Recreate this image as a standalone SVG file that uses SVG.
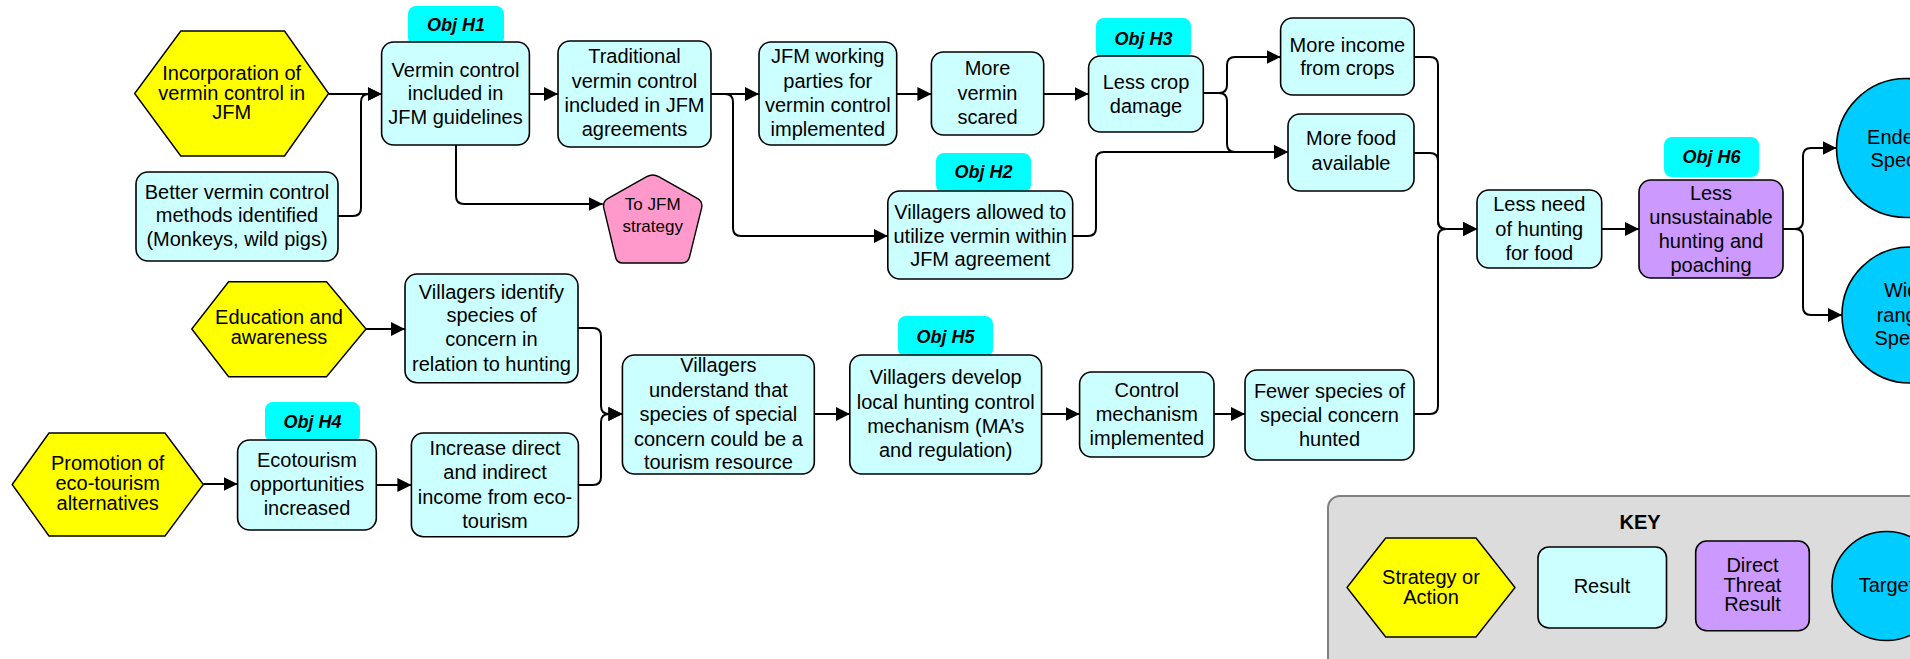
<svg xmlns="http://www.w3.org/2000/svg" width="1910" height="659" viewBox="0 0 1910 659">
  <defs>
    <marker id="arrow" markerUnits="userSpaceOnUse" markerWidth="14" markerHeight="14" refX="14" refY="7" orient="auto">
      <path d="M0,0 L14,7 L0,14 z" fill="#000"/>
    </marker>
    <style>
      text { font-family: "Liberation Sans", Arial, sans-serif; font-size: 20px; text-anchor: middle; fill: #000; }
      .res { fill: #CCFFFF; stroke: #000; stroke-width: 1.6; }
      .act { fill: #FFFF00; stroke: #000; stroke-width: 1.4; stroke-linejoin: round; }
      .thr { fill: #CC99FF; stroke: #000; stroke-width: 1.6; }
      .tgt { fill: #00CCFF; stroke: #000; stroke-width: 1.6; }
      .lnk { fill: #FF99CC; stroke: #000; stroke-width: 1.4; }
      .obj { fill: #00FFFF; }
      .objt { font-weight: bold; font-style: italic; font-size: 18px; }
      .small { font-size: 17px; }
      .keybox { fill: #DCDCDC; stroke: #808080; stroke-width: 2; }
      .keyt { font-weight: bold; }
      #connectors path { fill: none; stroke: #000; stroke-width: 2; }
    </style>
  </defs>

  <rect width="1910" height="659" fill="#FFFFFF"/>

  <!-- Legend -->
  <g id="key">
    <rect class="keybox" x="1328" y="496" width="620" height="200" rx="12"/>
    <text class="keyt" x="1640" y="529">KEY</text>
    <polygon class="act" points="1347,587.5 1385.7,538 1476,538 1515,587.5 1476,637 1385.7,637"/>
    <text><tspan x="1431" y="584">Strategy or</tspan><tspan x="1431" y="604">Action</tspan></text>
    <rect class="res" x="1538" y="547" width="128.5" height="81" rx="11"/>
    <text x="1602" y="593">Result</text>
    <rect class="thr" x="1695.7" y="541" width="113.6" height="89.7" rx="11"/>
    <text><tspan x="1752.5" y="572">Direct</tspan><tspan x="1752.5" y="592">Threat</tspan><tspan x="1752.5" y="611">Result</tspan></text>
    <circle class="tgt" cx="1886.5" cy="586" r="54.5"/>
    <text x="1886.5" y="592">Target</text>
  </g>

  <!-- Objective tags (drawn beneath the boxes they label) -->
  <g id="obj-h1"><rect class="obj" x="408" y="6" width="96" height="40" rx="8"/><text class="objt" x="456" y="31">Obj H1</text></g>
  <g id="obj-h2"><rect class="obj" x="936" y="153" width="95" height="40" rx="8"/><text class="objt" x="983.5" y="178">Obj H2</text></g>
  <g id="obj-h3"><rect class="obj" x="1096" y="18" width="95" height="41" rx="8"/><text class="objt" x="1143.5" y="44.5">Obj H3</text></g>
  <g id="obj-h4"><rect class="obj" x="265" y="402" width="95" height="40" rx="8"/><text class="objt" x="312.5" y="428">Obj H4</text></g>
  <g id="obj-h5"><rect class="obj" x="898" y="316" width="95" height="41" rx="8"/><text class="objt" x="945.5" y="342.5">Obj H5</text></g>
  <g id="obj-h6"><rect class="obj" x="1664" y="137" width="95" height="40" rx="8"/><text class="objt" x="1711.5" y="163">Obj H6</text></g>

  <!-- Connectors -->
  <g id="connectors">
    <path d="M329,94 H381.6" marker-end="url(#arrow)"/>
    <path d="M338,216 H353 Q361,216 361,208 V102 Q361,94 369,94 H381.6" marker-end="url(#arrow)"/>
    <path d="M456,145 V196 Q456,204 464,204 H602.7" marker-end="url(#arrow)"/>
    <path d="M529.4,94 H558" marker-end="url(#arrow)"/>
    <path d="M711,94 H759" marker-end="url(#arrow)"/>
    <path d="M711,94 H725 Q733,94 733,102 V228 Q733,236 741,236 H887.8" marker-end="url(#arrow)"/>
    <path d="M896.7,94 H931.4" marker-end="url(#arrow)"/>
    <path d="M1043.7,94 H1088.6" marker-end="url(#arrow)"/>
    <path d="M1203.3,93 H1219 Q1227,93 1227,85 V65 Q1227,57 1235,57 H1280.6" marker-end="url(#arrow)"/>
    <path d="M1203.3,93 H1219 Q1227,93 1227,101 V144 Q1227,152 1235,152 H1288" marker-end="url(#arrow)"/>
    <path d="M1072.7,236 H1088 Q1096,236 1096,228 V160 Q1096,152 1104,152 H1288" marker-end="url(#arrow)"/>
    <path d="M1414.2,57 H1430 Q1438,57 1438,65 V221 Q1438,229 1446,229 H1477" marker-end="url(#arrow)"/>
    <path d="M1414,153 H1430 Q1438,153 1438,161 V221 Q1438,229 1446,229 H1477" marker-end="url(#arrow)"/>
    <path d="M1414,414 H1430 Q1438,414 1438,406 V237 Q1438,229 1446,229 H1477" marker-end="url(#arrow)"/>
    <path d="M1601.7,229 H1639" marker-end="url(#arrow)"/>
    <path d="M1783,229 H1795 Q1803,229 1803,221 V156 Q1803,148 1811,148 H1836.5" marker-end="url(#arrow)"/>
    <path d="M1783,229 H1795 Q1803,229 1803,237 V307 Q1803,315 1811,315 H1842" marker-end="url(#arrow)"/>
    <path d="M366,329 H405" marker-end="url(#arrow)"/>
    <path d="M578,328 H593 Q601,328 601,336 V406 Q601,414 609,414 H622.4" marker-end="url(#arrow)"/>
    <path d="M578.4,485 H593 Q601,485 601,477 V422 Q601,414 609,414 H622.4" marker-end="url(#arrow)"/>
    <path d="M203.3,484 H237.6" marker-end="url(#arrow)"/>
    <path d="M376.3,485 H411.4" marker-end="url(#arrow)"/>
    <path d="M814.3,414 H849.8" marker-end="url(#arrow)"/>
    <path d="M1041.6,414 H1079.6" marker-end="url(#arrow)"/>
    <path d="M1214,414 H1245" marker-end="url(#arrow)"/>
  </g>

  <!-- Strategies -->
  <g id="incorporation">
    <polygon class="act" points="134.7,93.5 180.8,31 284.5,31 328.6,93.5 284.5,156 180.8,156"/>
    <text><tspan x="231.7" y="79.5">Incorporation of</tspan><tspan x="231.7" y="99.5">vermin control in</tspan><tspan x="231.7" y="118.7">JFM</tspan></text>
  </g>
  <g id="education">
    <polygon class="act" points="191.8,329 228.6,281.7 326.5,281.7 366,329 326.5,376.7 228.6,376.7"/>
    <text><tspan x="279" y="324">Education and</tspan><tspan x="279" y="344">awareness</tspan></text>
  </g>
  <g id="promotion">
    <polygon class="act" points="12.2,484.5 49,433 165,433 203.3,484.5 165,536 49,536"/>
    <text><tspan x="107.7" y="470">Promotion of</tspan><tspan x="107.7" y="490">eco-tourism</tspan><tspan x="107.7" y="510">alternatives</tspan></text>
  </g>

  <!-- Results -->
  <g id="better-methods">
    <rect class="res" x="136" y="172" width="202" height="89" rx="12"/>
    <text><tspan x="237" y="198.7">Better vermin control</tspan><tspan x="237" y="222">methods identified</tspan><tspan x="237" y="246.3">(Monkeys, wild pigs)</tspan></text>
  </g>
  <g id="vermin-guidelines">
    <rect class="res" x="381.6" y="42" width="147.8" height="103" rx="12"/>
    <text><tspan x="455.5" y="77">Vermin control</tspan><tspan x="455.5" y="100">included in</tspan><tspan x="455.5" y="124">JFM guidelines</tspan></text>
  </g>
  <g id="traditional">
    <rect class="res" x="558" y="41" width="153" height="106" rx="12"/>
    <text><tspan x="634.5" y="63">Traditional</tspan><tspan x="634.5" y="88">vermin control</tspan><tspan x="634.5" y="112">included in JFM</tspan><tspan x="634.5" y="136">agreements</tspan></text>
  </g>
  <g id="working-parties">
    <rect class="res" x="759" y="42" width="137.7" height="103" rx="12"/>
    <text><tspan x="827.8" y="63">JFM working</tspan><tspan x="827.8" y="88">parties for</tspan><tspan x="827.8" y="112">vermin control</tspan><tspan x="827.8" y="136">implemented</tspan></text>
  </g>
  <g id="more-vermin">
    <rect class="res" x="931.4" y="52" width="112.3" height="83" rx="12"/>
    <text><tspan x="987.5" y="75">More</tspan><tspan x="987.5" y="100">vermin</tspan><tspan x="987.5" y="124">scared</tspan></text>
  </g>
  <g id="less-crop">
    <rect class="res" x="1088.6" y="56" width="114.7" height="76" rx="12"/>
    <text><tspan x="1146" y="89">Less crop</tspan><tspan x="1146" y="113">damage</tspan></text>
  </g>
  <g id="more-income">
    <rect class="res" x="1280.6" y="18" width="133.6" height="77" rx="12"/>
    <text><tspan x="1347.4" y="52">More income</tspan><tspan x="1347.4" y="75.3">from crops</tspan></text>
  </g>
  <g id="more-food">
    <rect class="res" x="1288" y="114" width="126" height="77" rx="12"/>
    <text><tspan x="1351" y="145.3">More food</tspan><tspan x="1351" y="170.3">available</tspan></text>
  </g>
  <g id="utilize-vermin">
    <rect class="res" x="887.8" y="191" width="184.9" height="88" rx="12"/>
    <text><tspan x="980.2" y="218.7">Villagers allowed to</tspan><tspan x="980.2" y="242.7">utilize vermin within</tspan><tspan x="980.2" y="266.3">JFM agreement</tspan></text>
  </g>
  <g id="less-need">
    <rect class="res" x="1477" y="190" width="124.7" height="78" rx="12"/>
    <text><tspan x="1539.3" y="211">Less need</tspan><tspan x="1539.3" y="236.3">of hunting</tspan><tspan x="1539.3" y="260.3">for food</tspan></text>
  </g>
  <g id="identify-species">
    <rect class="res" x="405" y="274" width="173" height="108.7" rx="12"/>
    <text><tspan x="491.5" y="298.7">Villagers identify</tspan><tspan x="491.5" y="322">species of</tspan><tspan x="491.5" y="346.3">concern in</tspan><tspan x="491.5" y="371">relation to hunting</tspan></text>
  </g>
  <g id="ecotourism">
    <rect class="res" x="237.6" y="440" width="138.7" height="90" rx="12"/>
    <text><tspan x="307" y="467">Ecotourism</tspan><tspan x="307" y="491">opportunities</tspan><tspan x="307" y="515">increased</tspan></text>
  </g>
  <g id="increase-income">
    <rect class="res" x="411.4" y="433" width="167" height="103.7" rx="12"/>
    <text><tspan x="495" y="455">Increase direct</tspan><tspan x="495" y="479">and indirect</tspan><tspan x="495" y="504">income from eco-</tspan><tspan x="495" y="528">tourism</tspan></text>
  </g>
  <g id="understand">
    <rect class="res" x="622.4" y="355" width="191.9" height="119" rx="12"/>
    <text><tspan x="718.4" y="372">Villagers</tspan><tspan x="718.4" y="397">understand that</tspan><tspan x="718.4" y="421">species of special</tspan><tspan x="718.4" y="446">concern could be a</tspan><tspan x="718.4" y="469">tourism resource</tspan></text>
  </g>
  <g id="develop-mechanism">
    <rect class="res" x="849.8" y="355" width="191.8" height="119" rx="12"/>
    <text><tspan x="945.7" y="384">Villagers develop</tspan><tspan x="945.7" y="408.7">local hunting control</tspan><tspan x="945.7" y="432.7">mechanism (MA’s</tspan><tspan x="945.7" y="457">and regulation)</tspan></text>
  </g>
  <g id="control-implemented">
    <rect class="res" x="1079.6" y="372" width="134.4" height="85" rx="12"/>
    <text><tspan x="1146.8" y="397">Control</tspan><tspan x="1146.8" y="421">mechanism</tspan><tspan x="1146.8" y="445">implemented</tspan></text>
  </g>
  <g id="fewer-species">
    <rect class="res" x="1245" y="370" width="169" height="90" rx="12"/>
    <text><tspan x="1329.5" y="397.7">Fewer species of</tspan><tspan x="1329.5" y="422">special concern</tspan><tspan x="1329.5" y="446">hunted</tspan></text>
  </g>

  <!-- Direct threat result -->
  <g id="less-hunting">
    <rect class="thr" x="1639" y="180" width="144" height="98" rx="12"/>
    <text><tspan x="1711" y="199.7">Less</tspan><tspan x="1711" y="223.7">unsustainable</tspan><tspan x="1711" y="247.7">hunting and</tspan><tspan x="1711" y="272">poaching</tspan></text>
  </g>

  <!-- Link to another strategy -->
  <g id="to-jfm-strategy">
    <path class="lnk" d="M646.7,176.7 Q652.7,173.3 658.7,176.7 L697.7,198.7 Q702.7,201.7 701.7,207.7 L689.5,257 Q688,263 682,263 L622.7,263 Q616.7,263 615.5,257 L603.7,207.7 Q602.7,201.7 607.7,198.7 Z"/>
    <text class="small"><tspan x="652.7" y="210">To JFM</tspan><tspan x="652.7" y="232">strategy</tspan></text>
  </g>

  <!-- Targets -->
  <g id="endemic-species">
    <circle class="tgt" cx="1906" cy="148" r="69.5"/>
    <text><tspan x="1906" y="144">Endemic</tspan><tspan x="1906" y="167">Species</tspan></text>
  </g>
  <g id="wide-ranging-species">
    <circle class="tgt" cx="1910" cy="315" r="68"/>
    <text><tspan x="1910" y="297">Wide-</tspan><tspan x="1910" y="322">ranging</tspan><tspan x="1910" y="345">Species</tspan></text>
  </g>
</svg>
